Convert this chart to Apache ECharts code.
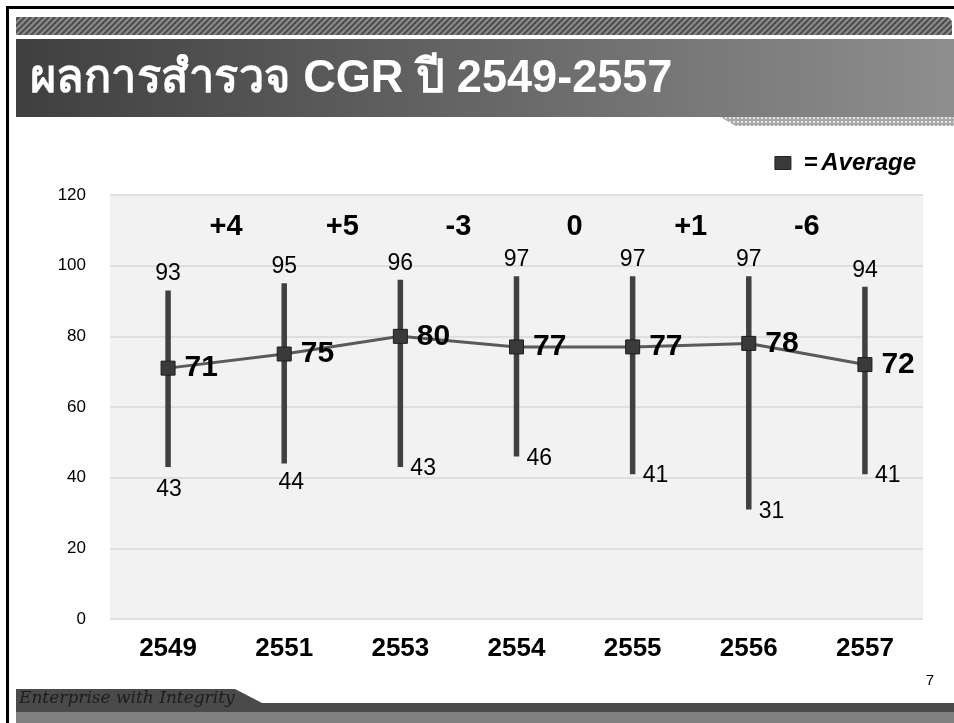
<!DOCTYPE html>
<html>
<head>
<meta charset="utf-8">
<script src="https://cdn.jsdelivr.net/npm/echarts@6/dist/echarts.min.js"></script>
<style>
html,body{margin:0;padding:0;background:#fff;}
#c{width:954px;height:723px;}
</style>
</head>
<body>
<div id="c"></div>
<script>
// ---- data ----
var categories = ['2549','2551','2553','2554','2555','2556','2557'];
var avgValues  = [71, 75, 80, 77, 77, 78, 72];
var highValues = [93, 95, 96, 97, 97, 97, 94];
var lowValues  = [43, 44, 43, 46, 41, 31, 41];
var diffLabels = ['+4', '+5', '-3', '0', '+1', '-6'];
var yMin = 0, yMax = 120, yStep = 20;
var diffLevel = 111;

// ---- patterns ----
function makeStripe() {
  var c = document.createElement('canvas');
  c.width = 6; c.height = 6;
  var g = c.getContext('2d');
  g.fillStyle = '#8c8c8c'; g.fillRect(0,0,6,6);
  g.strokeStyle = '#4e4e4e'; g.lineWidth = 2.2;
  g.beginPath();
  g.moveTo(-3,3); g.lineTo(3,-3);
  g.moveTo(0,6); g.lineTo(6,0);
  g.moveTo(3,9); g.lineTo(9,3);
  g.stroke();
  return c;
}
function makeDots() {
  var c = document.createElement('canvas');
  c.width = 4; c.height = 4;
  var g = c.getContext('2d');
  g.fillStyle = '#a9a9a9'; g.fillRect(0,0,4,4);
  g.fillStyle = '#e6e6e6'; g.fillRect(1,1,2,2);
  return c;
}

var chart = echarts.init(document.getElementById('c'), null, {renderer:'canvas'});
var FONT = '"Liberation Sans", Arial, "Noto Sans", sans-serif';

var lowData = lowValues.map(function(v, i){
  var item = {value:[i, v]};
  if (i === 0) item.label = {position:'bottom', distance:11, offset:[1,0]};
  else if (i === 1) item.label = {position:'bottom', distance:8, offset:[7,0]};
  else item.label = {position:'right', distance:10, offset:[0,2]};
  return item;
});

var option = {
  animation: false,
  backgroundColor: '#ffffff',
  textStyle: {fontFamily: FONT},
  grid: {left:110, right:31, top:195, bottom:104, show:true, backgroundColor:'#f2f2f2', borderWidth:0},
  legend: {
    right: 33, top: 146,
    itemWidth: 16, itemHeight: 13, itemGap: 10,
    data: [{name:'Average', icon:'rect', itemStyle:{color:'#3a3a3a', borderColor:'#222', borderWidth:1}}],
    formatter: '{e|=} {a|Average}',
    textStyle: {rich:{
      e:{fontSize:24, fontWeight:'bold', color:'#000', fontFamily:FONT, padding:[0,0,0,8]},
      a:{fontSize:24, fontWeight:'bold', fontStyle:'italic', color:'#000', fontFamily:FONT}
    }}
  },
  xAxis: [{
    type:'category', data: categories, boundaryGap:true,
    axisLine:{show:false}, axisTick:{show:false},
    axisLabel:{fontSize:26, fontWeight:'bold', color:'#000', margin:17, fontFamily:FONT}
  },{
    type:'value', min:0, max:categories.length, show:false
  }],
  yAxis: {
    type:'value', min:yMin, max:yMax, interval:yStep,
    axisLine:{show:false}, axisTick:{show:false},
    axisLabel:{fontSize:17, color:'#000', margin:24, fontFamily:FONT},
    splitLine:{lineStyle:{color:'#d9d9d9', width:1.5}}
  },
  series: [
    {
      type:'custom', name:'range', z:2,
      data: lowValues.map(function(v,i){ return [i, v, highValues[i]]; }),
      renderItem: function(params, api){
        var p1 = api.coord([api.value(0), api.value(1)]);
        var p2 = api.coord([api.value(0), api.value(2)]);
        return {type:'line', shape:{x1:p1[0], y1:p1[1], x2:p2[0], y2:p2[1]},
                style:{stroke:'#404040', lineWidth:5.5}};
      },
      silent:true
    },
    {
      type:'scatter', name:'high', symbolSize:0, z:3,
      itemStyle:{opacity:1},
      data: highValues.map(function(v,i){ return [i, v]; }),
      label:{show:true, position:'top', distance:5, fontSize:23, color:'#000', fontFamily:FONT,
             formatter:function(p){ return p.value[1]; }}
    },
    {
      type:'scatter', name:'low', symbolSize:0, z:3,
      itemStyle:{opacity:1},
      data: lowData,
      label:{show:true, fontSize:23, color:'#000', fontFamily:FONT,
             formatter:function(p){ return p.value[1]; }}
    },
    {
      type:'line', name:'Average', z:4,
      data: avgValues,
      symbol:'rect', symbolSize:14,
      lineStyle:{color:'#5a5a5a', width:3},
      itemStyle:{color:'#3a3a3a', borderColor:'#1e1e1e', borderWidth:1},
      label:{show:true, position:'right', distance:9, fontSize:30, fontWeight:'bold', color:'#000', fontFamily:FONT}
    },
    {
      type:'scatter', name:'diff', xAxisIndex:1, symbolSize:0, z:3,
      itemStyle:{opacity:1},
      data: diffLabels.map(function(t,i){ return {value:[i+1, diffLevel], name:t}; }),
      label:{show:true, position:'inside', fontSize:29, fontWeight:'bold', color:'#000', fontFamily:FONT,
             formatter:function(p){ return p.name; }}
    }
  ],
  graphic: [
    // frame
    {type:'rect', shape:{x:6, y:6, width:948, height:3}, style:{fill:'#000'}, z:100},
    {type:'rect', shape:{x:6, y:6, width:3, height:717}, style:{fill:'#000'}, z:100},
    // stripes
    {type:'rect', shape:{x:16, y:17, width:936, height:18, r:[0,6,0,0]}, style:{fill:{image:makeStripe(), repeat:'repeat'}}, z:100},
    // title bar
    {type:'rect', shape:{x:16, y:39, width:938, height:78},
     style:{fill:new echarts.graphic.LinearGradient(0,0,1,0,[{offset:0,color:'#3f3f3f'},{offset:1,color:'#8e8e8e'}])}, z:100},
    {type:'polygon', shape:{points:[[720,117],[954,117],[954,126],[736,126]]},
     style:{fill:{image:makeDots(), repeat:'repeat'}}, z:100},
    {type:'text', x:30, y:79, scaleX:0.98, z:101,
     style:{text:'ผลการสำรวจ CGR ปี 2549-2557', fill:'#fff', font:'bold 46px '+FONT, verticalAlign:'middle', textAlign:'left'}},
    // footer
    {type:'polygon', shape:{points:[[16,689],[235,689],[262,703],[954,703],[954,712],[16,712]]},
     style:{fill:'#4a4a4a'}, z:100},
    {type:'rect', shape:{x:16, y:712, width:938, height:11}, style:{fill:'#808080'}, z:100},
    {type:'text', x:19, y:699, z:101,
     style:{text:'Enterprise with Integrity', fill:'#1c1c1c', font:'italic 17px "DejaVu Serif", "Liberation Serif", serif', verticalAlign:'middle'}},
    {type:'text', x:930, y:681, z:101,
     style:{text:'7', fill:'#000', font:'15px '+FONT, verticalAlign:'middle', textAlign:'center'}}
  ]
};
chart.setOption(option);
</script>
</body>
</html>
